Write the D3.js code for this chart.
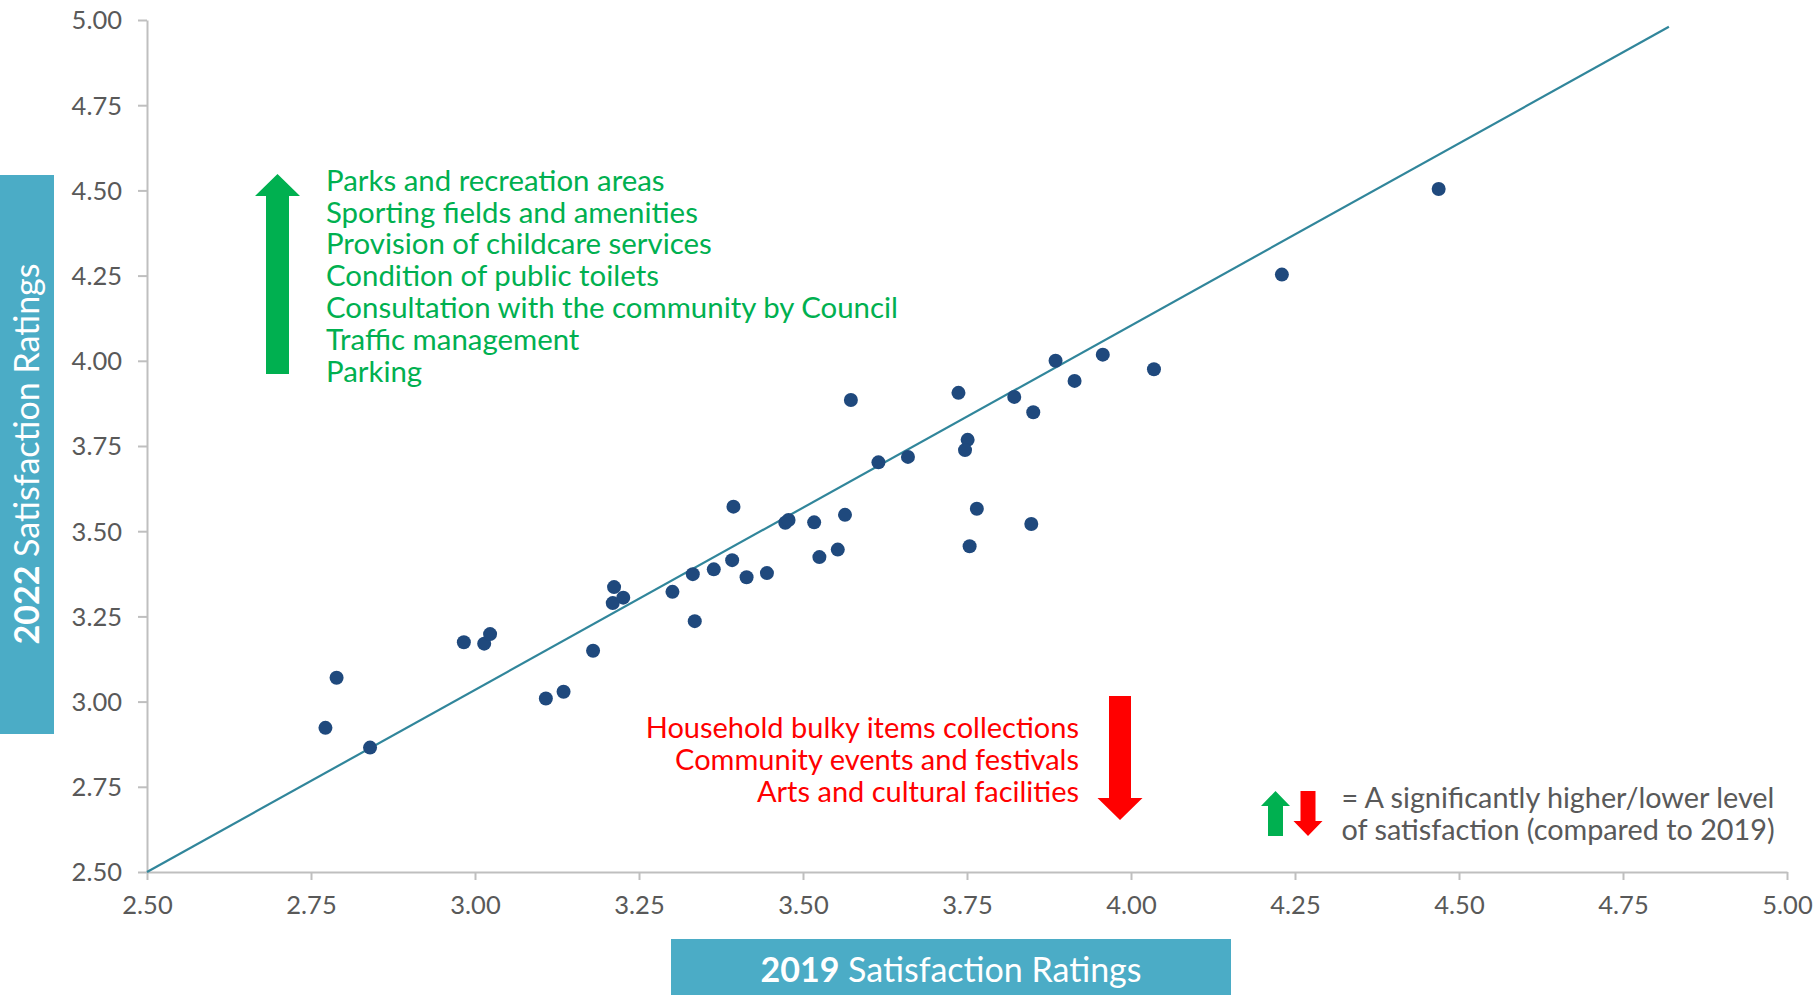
<!DOCTYPE html>
<html>
<head>
<meta charset="utf-8">
<script src="https://cdn.jsdelivr.net/npm/d3@7"></script>
<style>
  body { margin: 0; background: #fff; }
  svg text { font-family: "Century Gothic", Lato, "DejaVu Sans", sans-serif; }
</style>
</head>
<body>
<svg id="chart" width="1816" height="995"></svg>
<script>

// 2019 vs 2022 satisfaction ratings, one entry per service
var rating2019 = [3.212, 3.210, 3.226, 3.301, 3.335, 3.332, 3.364, 3.392, 3.394, 3.414,
                  3.445, 3.473, 3.478, 3.517, 3.525, 3.553, 3.564, 3.573, 3.615, 3.660,
                  3.737, 3.751, 3.747, 3.765, 3.754, 3.822, 3.851, 3.848, 3.885, 3.914,
                  3.957, 4.035, 4.230, 4.469, 2.789, 2.772, 2.840, 2.983, 3.014, 3.023,
                  3.108, 3.135, 3.180];
var rating2022 = [3.336, 3.289, 3.305, 3.322, 3.236, 3.374, 3.388, 3.415, 3.572, 3.365,
                  3.377, 3.525, 3.533, 3.526, 3.424, 3.446, 3.548, 3.885, 3.702, 3.718,
                  3.906, 3.768, 3.738, 3.566, 3.456, 3.894, 3.849, 3.521, 4.000, 3.941,
                  4.018, 3.975, 4.253, 4.504, 3.070, 2.923, 2.865, 3.174, 3.170, 3.198,
                  3.009, 3.029, 3.149];

var trendLine = [[2.5, 2.5], [4.82, 4.98]];

var tickValues = [2.5, 2.75, 3.0, 3.25, 3.5, 3.75, 4.0, 4.25, 4.5, 4.75, 5.0];

var higherLabels = ['Parks and recreation areas', 'Sporting fields and amenities',
  'Provision of childcare services', 'Condition of public toilets',
  'Consultation with the community by Council', 'Traffic management', 'Parking'];
var lowerLabels = ['Household bulky items collections', 'Community events and festivals',
  'Arts and cultural facilities'];
var legendLines = ['= A significantly higher/lower level', 'of satisfaction (compared to 2019)'];

var green = '#00B050', red = '#FF0000', grey = '#595959', axisGrey = '#BFBFBF', boxBlue = '#4BACC6';

var svg = d3.select('#chart');

var x = d3.scaleLinear().domain([2.5, 5]).range([147, 1787]);
var y = d3.scaleLinear().domain([2.5, 5]).range([872, 20]);
var fmt = d3.format('.2f');

// axes
var xAxis = svg.append('g')
    .attr('transform', 'translate(0,' + y(2.5) + ')')
    .call(d3.axisBottom(x).tickValues(tickValues).tickFormat(fmt).tickSize(8).tickSizeOuter(0).tickPadding(16));
var yAxis = svg.append('g')
    .attr('transform', 'translate(' + x(2.5) + ',0)')
    .call(d3.axisLeft(y).tickValues(tickValues).tickFormat(fmt).tickSize(9).tickSizeOuter(0).tickPadding(16));

[xAxis, yAxis].forEach(function (ax) {
  ax.select('.domain').attr('stroke', axisGrey).attr('stroke-width', 2);
  ax.selectAll('.tick line').attr('stroke', axisGrey).attr('stroke-width', 2);
  ax.selectAll('.tick text')
    .attr('fill', grey)
    .style('font-size', '25.5px');
});
yAxis.selectAll('.tick text').attr('dy', '0.35em');

// trend line
svg.append('path')
    .datum(trendLine)
    .attr('fill', 'none')
    .attr('stroke', '#31869B')
    .attr('stroke-width', 2.2)
    .attr('d', d3.line().x(function (d) { return x(d[0]); }).y(function (d) { return y(d[1]); }));

// dots
svg.append('g').selectAll('circle')
    .data(rating2019)
    .enter().append('circle')
    .attr('cx', function (d) { return x(d); })
    .attr('cy', function (d, i) { return y(rating2022[i]); })
    .attr('r', 7)
    .attr('fill', '#1F497D');

// block arrow, pointing up or down
function arrow(cx, top, bottom, shaftW, headW, headH, up) {
  var s = shaftW / 2, h = headW / 2;
  if (up) {
    return 'M' + cx + ',' + top + 'L' + (cx + h) + ',' + (top + headH) + 'L' + (cx + s) + ',' + (top + headH) +
      'L' + (cx + s) + ',' + bottom + 'L' + (cx - s) + ',' + bottom + 'L' + (cx - s) + ',' + (top + headH) +
      'L' + (cx - h) + ',' + (top + headH) + 'Z';
  }
  return 'M' + cx + ',' + bottom + 'L' + (cx + h) + ',' + (bottom - headH) + 'L' + (cx + s) + ',' + (bottom - headH) +
    'L' + (cx + s) + ',' + top + 'L' + (cx - s) + ',' + top + 'L' + (cx - s) + ',' + (bottom - headH) +
    'L' + (cx - h) + ',' + (bottom - headH) + 'Z';
}

svg.append('path').attr('d', arrow(277.5, 174, 374, 23, 45, 22, true)).attr('fill', green);
svg.append('path').attr('d', arrow(1120, 696, 820, 22, 45, 22, false)).attr('fill', red);
svg.append('path').attr('d', arrow(1275.5, 791, 836, 15, 29, 15, true)).attr('fill', green);
svg.append('path').attr('d', arrow(1308, 791, 836, 15, 29, 15, false)).attr('fill', red);

// annotation text
svg.append('g').selectAll('text')
    .data(higherLabels)
    .enter().append('text')
    .attr('x', 326)
    .attr('y', function (d, i) { return 179.3 + i * 31.8; })
    .attr('dominant-baseline', 'central')
    .attr('fill', green)
    .style('font-size', '29.4px')
    .text(function (d) { return d; });

svg.append('g').selectAll('text')
    .data(lowerLabels)
    .enter().append('text')
    .attr('x', 1079)
    .attr('y', function (d, i) { return 726.7 + i * 31.8; })
    .attr('text-anchor', 'end')
    .attr('dominant-baseline', 'central')
    .attr('fill', red)
    .style('font-size', '29px')
    .text(function (d) { return d; });

svg.append('g').selectAll('text')
    .data(legendLines)
    .enter().append('text')
    .attr('x', 1341.5)
    .attr('y', function (d, i) { return 797 + i * 31.5; })
    .attr('dominant-baseline', 'central')
    .attr('fill', grey)
    .style('font-size', '28.8px')
    .text(function (d) { return d; });

// axis title boxes
svg.append('rect').attr('x', 671).attr('y', 939).attr('width', 560).attr('height', 60).attr('fill', boxBlue);
var xt = svg.append('text')
    .attr('x', 951).attr('y', 968)
    .attr('text-anchor', 'middle')
    .attr('dominant-baseline', 'central')
    .attr('fill', '#fff')
    .style('font-size', '34px');
xt.append('tspan').attr('font-weight', 'bold').text('2019');
xt.append('tspan').text(' Satisfaction Ratings');

svg.append('rect').attr('x', 0).attr('y', 175).attr('width', 54).attr('height', 559).attr('fill', boxBlue);
var yt = svg.append('text')
    .attr('transform', 'translate(25,454) rotate(-90)')
    .attr('text-anchor', 'middle')
    .attr('dominant-baseline', 'central')
    .attr('fill', '#fff')
    .style('font-size', '34px');
yt.append('tspan').attr('font-weight', 'bold').text('2022');
yt.append('tspan').text(' Satisfaction Ratings');

</script>
</body>
</html>
